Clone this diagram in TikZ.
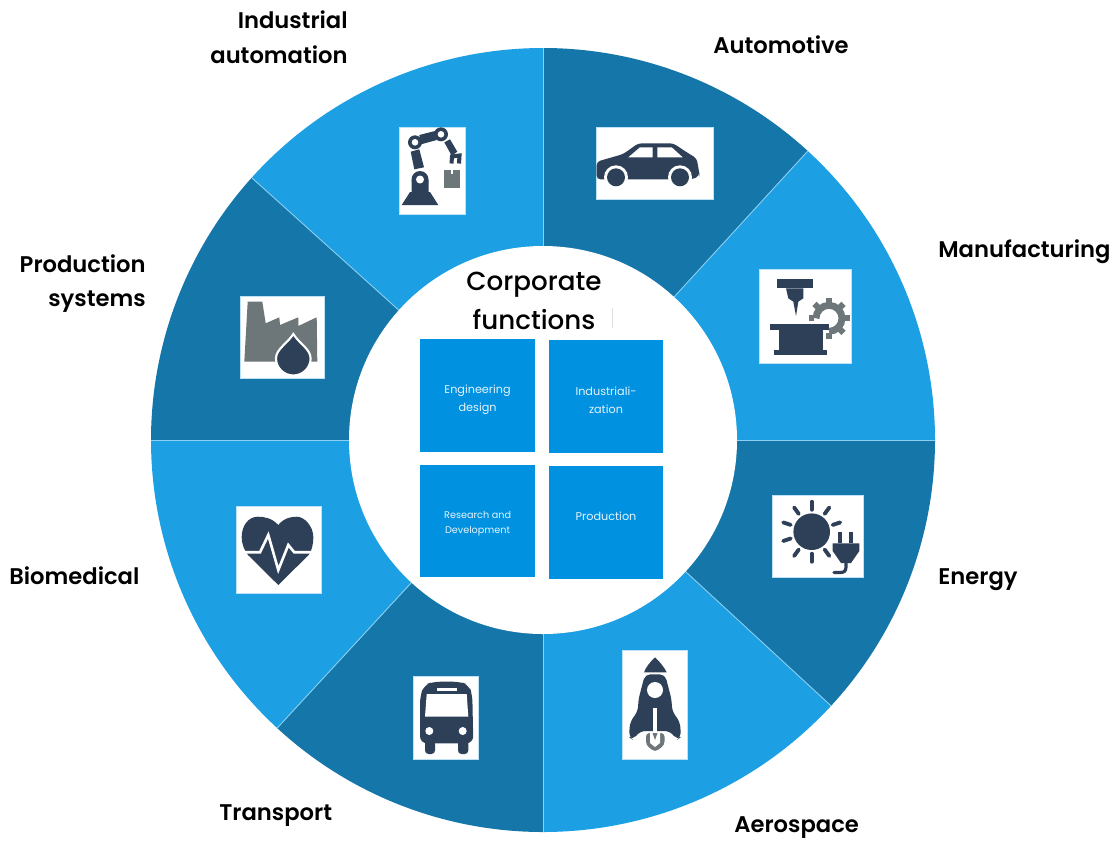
\documentclass[tikz,border=0pt]{standalone}
\usepackage{fontspec}
\setmainfont{Poppins}
\newfontfamily\semifont{Poppins SemiBold}
\newfontfamily\mediumfont{Poppins Medium}
\usepackage{tikz}
\definecolor{seglight}{HTML}{1C9FE3}
\definecolor{segdark}{HTML}{1577A9}
\definecolor{boxblue}{HTML}{0091E0}
\definecolor{iconnavy}{HTML}{2E4057}
\definecolor{icongray}{HTML}{6D7678}
\tikzset{
	sectorname/.style={font=\semifont\fontsize{12.9}{19.8}\selectfont, inner sep=0pt},
	corpbox/.style={fill=boxblue, minimum width=65.4pt, minimum height=64pt, inner sep=0pt},
	corpname/.style={text=white!90!boxblue, inner sep=0pt, align=center, font=\fontsize{6.4}{10.2}\selectfont},
	iconbox/.style={fill=white, draw=white!70!seglight, line width=0.3pt},
	navy/.style={fill=iconnavy},
	slate/.style={fill=icongray}
}

\begin{document}
\begin{tikzpicture}[x=0.02cm,y=-0.02cm]
	\useasboundingbox (0,0) rectangle (1118,843);
	\foreach \from/\to/\tone in {-138/-90/seglight,-90/-47.5/segdark,-47.5/0/seglight,0/42.7/segdark,42.7/90/seglight,90/132.7/segdark,132.7/180/seglight,180/222/segdark}
		\fill[\tone] (543,440) -- ++(\from:392) arc[start angle=\from,end angle=\to,radius=392] -- cycle;
	\foreach \from in {-138,-90,-47.5,0,42.7,90,132.7,180}
		\draw[white!50!seglight, line width=0.5pt] (543,440) -- ++(\from:392);
	\fill[white] (543,440) circle[radius=194];

	\node[font=\mediumfont\fontsize{14.9}{22.2}\selectfont, align=center, inner sep=0pt] (title) at (534,301) {Corporate\\functions};
	\draw[black!12, line width=0.5pt] (612.3,308) -- (612.3,328);
	\node[corpbox, label={[corpname, yshift=-2.2pt]center:Engineering\\design}] (engineering) at (477.6,395.6) {};
	\node[corpbox, label={[corpname, yshift=-2.2pt]center:Industriali-\\zation}] (industrial) at (606,396.3) {};
	\node[corpbox, label={[corpname, yshift=-1.7pt, font=\fontsize{5.5}{8.6}\selectfont]center:Research and\\Development}] (research) at (477.6,520.8) {};
	\node[corpbox, label={[corpname, yshift=3.4pt]center:Production}] (production) at (606,522.3) {};

	\node[sectorname, anchor=east, align=right] (automation) at (348,37.5) {Industrial\\automation};
	\node[sectorname, anchor=west] (automotive) at (713,45) {Automotive};
	\node[sectorname, anchor=west] (manufacturing) at (938,252) {Manufacturing};
	\node[sectorname, anchor=west] (energy) at (938,580) {Energy};
	\node[sectorname, anchor=west] (aerospace) at (734,828) {Aerospace};
	\node[sectorname, anchor=west] (transport) at (219,816) {Transport};
	\node[sectorname, anchor=west] (biomedical) at (9,576) {Biomedical};
	\node[sectorname, anchor=east, align=right] (systems) at (146,283.5) {Production\\systems};

	% robot arm
	\draw[iconbox] (399,127) rectangle (465,214);
	\fill[navy] (401.7,205) -- (438.3,205) -- (430,192) -- (428.5,192) -- (428.5,180) -- (411.5,180) -- (411.5,192) -- (410,192) -- cycle;
	\fill[navy] (420,179.5) circle[radius=8.5];
	\fill[white] (420,179.5) circle[radius=4];
	\fill[navy] (410.7,151.7) -- (419.3,149.3) -- (424,167.3) -- (414.3,169.3) -- cycle;
	\fill[navy] (419.3,135) -- (435,131) -- (436.7,140) -- (421,144.3) -- cycle;
	\fill[navy] (444.3,142.3) -- (450,139.3) -- (457.3,151.7) -- (451.7,155.7) -- cycle;
	\draw[iconnavy, line width=2.3pt] (451.5,163.5) -- (452,156.5) -- (459.5,155.5) -- (459,163.5);
	\foreach \cx/\cy in {415/142.3,441/134.3} {
		\fill[navy] (\cx,\cy) circle[radius=7];
		\fill[white] (\cx,\cy) circle[radius=3.3];
	}
	\fill[slate] (444,170) rectangle (460,188.3);
	\fill[white] (451,170) rectangle (453,174);

	% car
	\draw[iconbox] (596.7,127.3) rectangle (713,199.3);
	\fill[navy, rounded corners=2pt] (596.7,179.3) -- (596.7,161.7) -- (623.3,154) -- (638.3,143.3) -- (673.3,143.3) -- (688.3,153.3) -- (696.7,158.3) -- (699.3,173.3) -- (699.3,176) -- (691.7,179.5) -- cycle;
	\fill[white] (628.3,157.3) -- (640,147.3) -- (652.7,147.3) -- (652.7,157.3) -- cycle;
	\fill[white] (657.3,147.3) -- (671.7,147.3) -- (682.7,157.3) -- (657.3,157.3) -- cycle;
	\foreach \cx in {616,680} {
		\fill[white] (\cx,177.3) circle[radius=12];
		\fill[navy] (\cx,177.3) circle[radius=9];
	}

	% machine tool and gear
	\draw[iconbox] (759.3,269.3) rectangle (851,363.3);
	\fill[navy] (777.3,279) rectangle (813.3,288.3);
	\fill[navy] (786,288.3) -- (803.3,288.3) -- (803.3,298.3) -- (798.3,301.7) -- (796,316) -- (793.3,301.7) -- (788.3,298.3) -- cycle;
	\draw[icongray, line width=3.9pt] (829,318.3) ++(-180:13) arc[start angle=-180,end angle=90,radius=13];
	\foreach \a in {-180,-135,-90,-45,0,45,90}
		\draw[icongray, line width=3.4pt] (829,318.3) ++(\a:15) -- ++(\a:5.5);
	\fill[white] (770,322.3) rectangle (829.3,324.3);
	\fill[navy] (770,324.3) rectangle (829.3,330);
	\fill[navy] (779.3,330) rectangle (822.7,350);
	\fill[navy] (774,350) rectangle (827.3,355);

	% sun and plug
	\draw[iconbox] (772.3,495) rectangle (863.3,577.7);
	\fill[navy] (811.7,531.7) circle[radius=18.3];
	\foreach \a in {-90,-54,-18,54,90,126,162,198,234}
		\draw[iconnavy, line width=2.2pt, line cap=round] (811.7,531.7) ++(\a:22) -- ++(\a:8);
	\fill[navy] (838.3,531.7) rectangle (842.3,543.3);
	\fill[navy] (849,531.7) rectangle (853.3,543.3);
	\fill[navy] (832.7,543.3) -- (859.3,543.3) -- (859.3,551) -- (851,563) -- (841,563) -- (832.7,551) -- cycle;
	\draw[iconnavy, line width=1.8pt, line cap=round] (846,563) -- (846,567) .. controls (846,571) and (844,572.5) .. (840,572.5) -- (834,572.5);

	% rocket
	\draw[iconbox] (622.7,650.7) rectangle (687.3,759.3);
	\fill[navy] (655,657.3) .. controls (660,662) and (664,667) .. (666.7,672.3) -- (644,672.3) .. controls (646,667) and (650,662) .. (655,657.3) -- cycle;
	\fill[navy, rounded corners=3pt] (645,674.3) -- (665,674.3) -- (671.7,700) -- (672,711) -- (680,722) -- (681,737) -- (677,740) -- (670,731) -- (640,731) -- (633,740) -- (629,737) -- (630,722) -- (638,711) -- (638.3,700) -- cycle;
	\fill[white] (655,690) circle[radius=8];
	\draw[white, line width=2pt] (655,708) -- (655,737);
	\fill[slate, rounded corners=2pt] (646,733) -- (664.5,733) -- (664.5,745) -- (655,752) -- (646,745) -- cycle;
	\fill[white] (650,733) -- (660,733) -- (660,743) -- (655,747) -- (650,743) -- cycle;
	\fill[slate] (652.5,733) -- (657.5,733) -- (655,740) -- cycle;

	% bus
	\draw[iconbox] (413.3,676.7) rectangle (478.3,759.3);
	\fill[navy, rounded corners=4pt] (420,743.3) -- (420,696.7) -- (424,685) -- (433.3,681.7) -- (460,681.7) -- (469,685) -- (472.3,695) -- (473.3,743.3) -- cycle;
	\fill[navy, rounded corners=2pt] (425,740) rectangle (435,754);
	\fill[navy, rounded corners=2pt] (458,740) rectangle (468.3,754);
	\fill[white] (426.7,694) -- (466.7,694) -- (468.3,716.7) -- (425,716.7) -- cycle;
	\fill[white] (436.7,687.7) rectangle (456.7,690.7);
	\foreach \cx in {429.3,462.7}
		\fill[white] (\cx,731) circle[radius=4];

	% heart
	\draw[iconbox] (236.7,506.7) rectangle (321.7,593.3);
	\fill[navy] (278.3,525) .. controls (272,518) and (264,516.7) .. (258,516.7) .. controls (248,516.7) and (241.7,526) .. (241.7,537) .. controls (241.7,545) and (245,551) .. (248,555) -- (278.3,585) -- (308.6,555) .. controls (311.6,551) and (313.3,545) .. (313.3,537) .. controls (313.3,526) and (304,516.7) .. (297,516.7) .. controls (291,516.7) and (284,518) .. (278.3,525) -- cycle;
	\draw[white, line width=1.5pt] (243,552.3) -- (260,552.3) -- (268.3,535) -- (278.3,570) -- (288.3,545) -- (294.3,552.3) -- (312,552.3);

	% factory and drop
	\draw[iconbox] (240,296) rectangle (324.7,378.3);
	\fill[slate] (247.7,301.7) -- (262.3,301.7) -- (265.7,323.3) -- (279.3,317.3) -- (280,325) -- (298.3,317.3) -- (298.3,326) -- (316.7,317.3) -- (317.3,361.7) -- (244.3,361.7) -- cycle;
	\draw[white, line width=1.2pt, fill=iconnavy] (293.3,334) .. controls (287,344) and (276,349) .. (276,358.5) .. controls (276,368) and (284,375.5) .. (293.3,375.5) .. controls (302.6,375.5) and (310.6,368) .. (310.6,358.5) .. controls (310.6,349) and (299.6,344) .. (293.3,334) -- cycle;
\end{tikzpicture}
\end{document}
